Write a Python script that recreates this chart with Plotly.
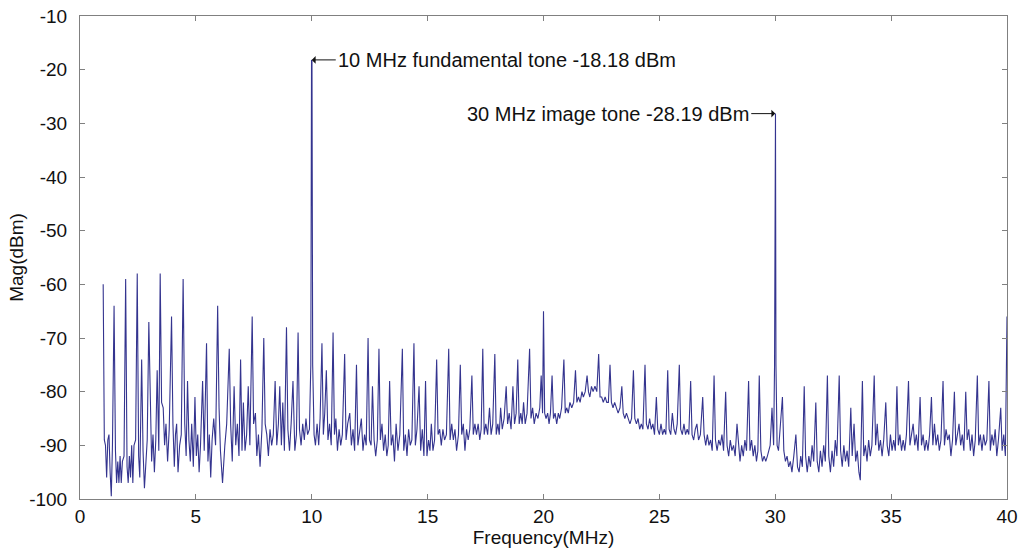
import plotly.graph_objects as go

# ---- spectrum data (MHz, dBm) ----
freq_a = [1.00, 1.05, 1.10, 1.15, 1.20, 1.25, 1.30, 1.35, 1.40, 1.47, 1.53, 1.58, 1.63, 1.68, 1.73, 1.78, 1.83, 1.90,
          1.97, 2.03, 2.08, 2.13, 2.18, 2.23, 2.28, 2.33, 2.40, 2.47, 2.53, 2.58, 2.66, 2.72, 2.78, 2.84, 2.90,
          2.97, 3.03, 3.09, 3.15, 3.21, 3.27, 3.33, 3.40, 3.46, 3.52, 3.59, 3.65, 3.71, 3.78, 3.85,
          3.95, 4.01, 4.07, 4.12, 4.17, 4.23, 4.30, 4.37, 4.45, 4.52, 4.58, 4.64, 4.70, 4.76, 4.82, 4.89,
          4.96, 5.02, 5.08, 5.14, 5.20, 5.29, 5.36, 5.46, 5.52, 5.58, 5.64, 5.70, 5.77, 5.85,
          5.94, 6.00, 6.06, 6.15, 6.25, 6.33, 6.44, 6.50, 6.57, 6.65, 6.72, 6.79, 6.86,
          6.93, 6.99, 7.05, 7.12, 7.19, 7.26, 7.33, 7.43, 7.49, 7.57, 7.63, 7.70, 7.77, 7.85,
          7.93, 7.99, 8.06, 8.13, 8.20, 8.27, 8.34, 8.42, 8.49, 8.56, 8.62, 8.69, 8.75, 8.82,
          8.91, 8.97, 9.04, 9.11, 9.19, 9.27, 9.34, 9.41, 9.47, 9.54, 9.61, 9.68, 9.75, 9.82, 9.90,
          9.96, 9.99, 10.01, 10.04, 10.10]
mag_a = [-60, -89, -90, -96, -89, -88, -95, -99.5, -90, -64, -91, -97, -93, -97, -92, -97, -93, -92,
         -59, -94, -97, -92, -96, -90, -97, -90, -89, -58, -92, -96, -74, -91, -98, -92, -89,
         -67, -84, -93, -88, -95, -89, -76, -91, -58, -82, -83, -90, -86, -93, -87,
         -66, -86, -94, -88, -86, -95, -90, -88, -59, -86, -92, -78, -89, -93, -86, -94,
         -81, -92, -88, -95, -90, -78, -91, -71, -93, -88, -96, -89, -85, -90,
         -64, -83, -91, -97, -90, -86, -72, -86, -93, -79, -90, -86, -92,
         -74, -91, -82, -91, -88, -79, -90, -66, -86, -84, -92, -88, -94, -87,
         -70, -86, -88, -92, -87, -90, -88, -78, -90, -86, -79, -90, -82, -91,
         -68, -87, -91, -86, -78, -91, -88, -69, -87, -90, -86, -89, -85, -88, -87,
         -75, -18.18, -18.4, -75, -88]

freq_b = [10.16, 10.23, 10.30, 10.36, 10.44, 10.50, 10.56, 10.63, 10.70, 10.77, 10.84,
          10.92, 10.98, 11.04, 11.11, 11.18, 11.25, 11.32, 11.42, 11.48, 11.55, 11.64, 11.71, 11.78, 11.85,
          11.93, 11.99, 12.06, 12.14, 12.21, 12.28, 12.35, 12.43, 12.49, 12.56, 12.62, 12.69, 12.76, 12.83,
          12.90, 12.96, 13.03, 13.10, 13.17, 13.24, 13.30, 13.36, 13.43, 13.50, 13.57, 13.64, 13.72, 13.80,
          13.91, 13.97, 14.04, 14.11, 14.18, 14.25, 14.32, 14.41, 14.47, 14.54, 14.63, 14.70, 14.77, 14.84,
          14.91, 14.97, 15.04, 15.10, 15.16, 15.23, 15.30, 15.39, 15.45, 15.52, 15.59, 15.66, 15.73, 15.81,
          15.91, 15.97, 16.04, 16.11, 16.18, 16.25, 16.33, 16.41, 16.47, 16.54, 16.61, 16.68, 16.75, 16.82,
          16.91, 16.97, 17.04, 17.11, 17.18, 17.25, 17.31, 17.38, 17.44, 17.51, 17.59, 17.67, 17.74, 17.81,
          17.90, 17.96, 18.03, 18.09, 18.15, 18.22, 18.30, 18.39, 18.45, 18.52, 18.60, 18.68, 18.75, 18.82,
          18.89, 18.95, 19.02, 19.08, 19.14, 19.21, 19.29, 19.40, 19.46, 19.53, 19.60, 19.68, 19.76, 19.84,
          19.90, 19.96, 20.00, 20.05]
mag_b = [-90, -86, -90, -85, -71, -88, -84, -76, -89, -86, -90,
         -69, -88, -85, -91, -87, -90, -88, -73, -89, -86, -84, -90, -87, -91,
         -75, -90, -88, -85, -91, -88, -90, -70, -89, -90, -79, -89, -92, -89,
         -72, -89, -86, -91, -88, -92, -90, -78, -90, -88, -93, -86, -91, -88,
         -72, -91, -88, -92, -87, -90, -89, -71, -90, -87, -79, -91, -87, -92,
         -78, -92, -89, -91, -86, -91, -89, -74, -88, -87, -90, -87, -89, -88,
         -72, -89, -86, -89, -87, -91, -88, -75, -88, -86, -91, -87, -89, -87,
         -77, -88, -86, -88, -86, -89, -87, -72, -88, -86, -88, -83, -88, -86,
         -73, -88, -86, -88, -83, -87, -85, -79, -86, -84, -87, -79, -86, -84,
         -74, -86, -84, -86, -82, -86, -84, -72, -85, -83, -86, -84, -85, -83,
         -77, -84, -65, -84]

freq_c = [20.11, 20.18, 20.24, 20.30, 20.37, 20.43, 20.50, 20.57, 20.64, 20.70, 20.78,
          20.88, 20.94, 21.00, 21.07, 21.14, 21.22, 21.30, 21.38, 21.44, 21.51, 21.58, 21.66, 21.72, 21.80,
          21.88, 21.94, 22.00, 22.07, 22.14, 22.22, 22.30, 22.38, 22.44, 22.51, 22.58, 22.66, 22.73, 22.80,
          22.87, 22.93, 23.00, 23.07, 23.14, 23.22, 23.30, 23.38, 23.44, 23.51, 23.58, 23.66, 23.73, 23.80,
          23.88, 23.94, 24.01, 24.08, 24.15, 24.22, 24.29, 24.38, 24.44, 24.51, 24.58, 24.65, 24.72, 24.79,
          24.87, 24.93, 25.00, 25.07, 25.14, 25.21, 25.28, 25.36, 25.42, 25.49, 25.56, 25.63, 25.70, 25.77,
          25.86, 25.92, 25.99, 26.06, 26.13, 26.20, 26.27, 26.35, 26.41, 26.48, 26.55, 26.62, 26.69, 26.77,
          26.87, 26.93, 27.00, 27.07, 27.14, 27.21, 27.28, 27.36, 27.42, 27.49, 27.56, 27.63, 27.70, 27.77,
          27.86, 27.92, 27.99, 28.06, 28.13, 28.20, 28.27, 28.35, 28.41, 28.48, 28.55, 28.62, 28.69, 28.76,
          28.85, 28.91, 28.98, 29.05, 29.12, 29.19, 29.25, 29.31, 29.38, 29.45, 29.52, 29.59, 29.66, 29.72,
          29.78, 29.86, 29.93, 29.97, 29.99, 30.01, 30.03, 30.08]
mag_c = [-85, -84, -86, -84, -77, -85, -84, -86, -84, -85, -83,
         -74, -84, -83, -84, -82, -83, -82, -76, -82, -81, -82, -80, -81, -80,
         -77, -80, -81, -79, -80, -79, -80, -73, -81, -81, -82, -81, -82, -82,
         -75, -82, -83, -82, -83, -84, -83, -79, -84, -85, -84, -85, -86, -85,
         -76, -85, -86, -85, -87, -86, -87, -75, -86, -87, -85, -87, -86, -88,
         -81, -87, -88, -86, -88, -87, -88, -76, -87, -88, -84, -87, -88, -86,
         -75, -87, -88, -86, -88, -87, -88, -78, -88, -89, -87, -86, -89, -88,
         -81, -88, -90, -88, -90, -89, -91, -77, -89, -91, -89, -90, -88, -91,
         -80, -90, -92, -89, -91, -90, -92, -86, -90, -93, -90, -92, -89, -91,
         -78, -91, -89, -92, -90, -93, -91, -77, -91, -93, -92, -93, -92, -91,
         -90, -83, -90, -75, -28.4, -28.19, -75, -90]

freq_d = [30.14, 30.20, 30.31, 30.37, 30.44, 30.51, 30.58, 30.65, 30.72, 30.80,
          30.89, 30.96, 31.03, 31.10, 31.17, 31.25, 31.31, 31.38, 31.45, 31.52, 31.59, 31.66,
          31.75, 31.81, 31.88, 31.95, 32.02, 32.09, 32.16, 32.25, 32.31, 32.38, 32.45, 32.52, 32.59, 32.66,
          32.76, 32.82, 32.89, 32.96, 33.03, 33.10, 33.17, 33.26, 33.32, 33.40, 33.47, 33.54, 33.61, 33.67,
          33.76, 33.82, 33.89, 33.96, 34.03, 34.10, 34.17, 34.27, 34.33, 34.40, 34.47, 34.54, 34.61, 34.68,
          34.77, 34.83, 34.90, 34.97, 35.04, 35.11, 35.18, 35.25, 35.31, 35.38, 35.45, 35.52, 35.59, 35.66,
          35.75, 35.81, 35.88, 35.95, 36.02, 36.09, 36.16, 36.25, 36.31, 36.38, 36.45, 36.52, 36.59, 36.66,
          36.74, 36.80, 36.87, 36.94, 37.01, 37.08, 37.15, 37.24, 37.30, 37.37, 37.44, 37.51, 37.58, 37.65,
          37.73, 37.79, 37.86, 37.93, 38.00, 38.07, 38.14, 38.22, 38.28, 38.35, 38.42, 38.49, 38.56, 38.63,
          38.72, 38.78, 38.85, 38.92, 38.99, 39.06, 39.13, 39.22, 39.28, 39.35, 39.42, 39.49, 39.56, 39.63,
          39.73, 39.79, 39.86, 39.93, 40.00]
mag_d = [-91, -88, -81, -91, -93, -92, -94, -93, -95, -92,
         -88, -94, -95, -92, -94, -79, -92, -95, -92, -94, -90, -93,
         -82, -93, -95, -91, -94, -90, -93, -77, -92, -95, -91, -94, -89, -92,
         -77, -91, -94, -90, -93, -91, -94, -83, -92, -86, -93, -91, -95, -96.5,
         -78, -92, -90, -93, -89, -92, -90, -77, -90, -86, -91, -89, -92, -89,
         -82, -90, -92, -88, -91, -89, -91, -79, -90, -88, -91, -89, -91, -88,
         -78, -90, -88, -86, -90, -88, -91, -81, -90, -88, -91, -89, -91, -88,
         -81, -90, -86, -90, -88, -91, -89, -78, -90, -87, -89, -88, -92, -89,
         -80, -90, -88, -86, -90, -88, -91, -80, -89, -87, -91, -88, -92, -89,
         -77, -90, -88, -91, -88, -90, -89, -78, -91, -88, -90, -87, -92, -89,
         -83, -91, -88, -92, -66]

x_ticks = [0, 5, 10, 15, 20, 25, 30, 35, 40]
y_ticks = [-100, -90, -80, -70, -60, -50, -40, -30, -20, -10]

tone_freqs = [10, 30]
tone_levels = [-18.18, -28.19]
tone_texts = ["10 MHz fundamental tone -18.18 dBm", "30 MHz image tone -28.19 dBm"]

freq = freq_a + freq_b + freq_c + freq_d
mag = mag_a + mag_b + mag_c + mag_d

FONT = "Liberation Sans, Arial, sans-serif"
AXIS_COLOR = "#808080"
TEXT_COLOR = "#111111"

fig = go.Figure()
fig.add_trace(go.Scatter(x=freq, y=mag, mode="lines",
                         line=dict(color="#34348f", width=1.1), showlegend=False,
                         hoverinfo="x+y"))

axis_common = dict(showgrid=False, zeroline=False, showline=True, linecolor=AXIS_COLOR,
                   linewidth=1, mirror="ticks", ticks="inside", ticklen=5,
                   tickcolor=AXIS_COLOR, automargin=False,
                   tickfont=dict(family=FONT, size=19, color=TEXT_COLOR))

fig.update_xaxes(range=[0, 40], tickvals=x_ticks, ticktext=[str(v) for v in x_ticks],
                 title=dict(text="Frequency(MHz)", font=dict(family=FONT, size=19, color=TEXT_COLOR),
                            standoff=4),
                 **axis_common)
fig.update_yaxes(range=[-100, -10], tickvals=y_ticks, ticktext=[str(v) for v in y_ticks],
                 title=dict(text="Mag(dBm)", font=dict(family=FONT, size=19, color=TEXT_COLOR),
                            standoff=0),
                 ticklabelstandoff=8,
                 **axis_common)

fig.add_annotation(x=tone_freqs[0], y=tone_levels[0], xref="x", yref="y",
                   text=tone_texts[0], showarrow=True, arrowhead=1, arrowsize=1.3,
                   arrowwidth=1, arrowcolor=TEXT_COLOR, ax=24, ay=0, xanchor="left",
                   yanchor="middle", font=dict(family=FONT, size=20, color=TEXT_COLOR))
fig.add_annotation(x=tone_freqs[1], y=tone_levels[1], xref="x", yref="y",
                   text=tone_texts[1], showarrow=True, arrowhead=1, arrowsize=1.3,
                   arrowwidth=1, arrowcolor=TEXT_COLOR, ax=-24, ay=0, xanchor="right",
                   yanchor="middle", font=dict(family=FONT, size=20, color=TEXT_COLOR))

fig.update_layout(width=1024, height=552, plot_bgcolor="white", paper_bgcolor="white",
                  margin=dict(l=80, r=17, t=16, b=53), font=dict(family=FONT))

fig.write_html("out.html")
